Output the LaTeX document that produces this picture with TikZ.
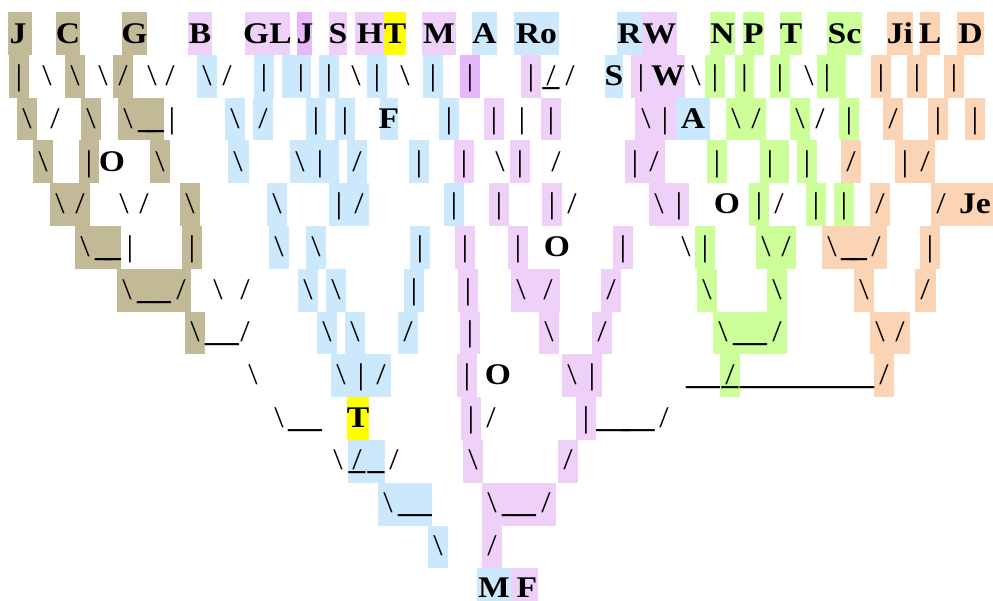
\documentclass[tikz,border=0pt]{standalone}
\usepackage{fontspec}
\newfontfamily\treefont[FakeStretch=1.12]{Liberation Serif}
\definecolor{tanC}{HTML}{C2BA96}
\definecolor{lilacC}{HTML}{EED0F8}
\definecolor{violetC}{HTML}{E6B8FB}
\definecolor{skyC}{HTML}{CCE8FC}
\definecolor{yellowC}{HTML}{FFFF00}
\definecolor{limeC}{HTML}{CCFF99}
\definecolor{peachC}{HTML}{FAD4B4}
\newcommand\xb{{\mdseries\textbackslash}}
\newcommand\xf{{\mdseries/}}
\newcommand\xp{{\mdseries\textbar}}
\newcommand\xu{\textunderscore}
\newcommand\ov[2]{\makebox[0pt]{#1}\makebox[0pt]{#2}}
\tikzset{
  glyph/.style={
    anchor=base,
    inner sep=0pt,
    font=\treefont\bfseries\fontsize{30}{30}\selectfont
  }
}
% one row of coloured cells, one row of characters
\newcommand\cellrow[2]{%
  \foreach \xa/\xz/\cl in {#2}
    \fill[\cl] (\xa,{12+42.8*(#1-1)}) rectangle (\xz,{12+42.8*#1});}
\newcommand\charrow[2]{%
  \foreach \xc/\ch [count=\i] in {#2}
    \node[glyph] (c#1-\i) at (\xc,{43.2+42.67*(#1-1)}) {\ch};}

\begin{document}
\begin{tikzpicture}[x=1pt,y=-1pt]
\useasboundingbox (0,0) rectangle (993,601);
\clip (0,0) rectangle (993,601);

\cellrow{1}{8/32/tanC, 56/80/tanC, 122/147/tanC, 188/212/lilacC, 245/290/lilacC, 297/312/violetC, 329/347/lilacC, 355/384/lilacC, 384/406/yellowC, 422/456/lilacC, 472/497/skyC, 514/559/skyC, 617/642/skyC, 642/677/lilacC, 710/735/limeC, 743/764/limeC, 780/802/limeC, 827/862/limeC, 887/913/peachC, 920/940/peachC, 957/984/peachC}
\charrow{1}{18/J, 68/C, 134.5/G, 200/B, 267.5/GL, 305/J, 338/S, 370/H, 395/T, 439/M, 484.5/A, 536.5/Ro, 629.5/R, 659.5/W, 722.5/N, 753.5/P, 791/T, 844.5/Sc, 900/Ji, 930/L, 970.5/D}

\cellrow{2}{9/29/tanC, 65/85/tanC, 113/133/tanC, 197/217/skyC, 254/274/skyC, 282/311/skyC, 319/339/skyC, 367/387/skyC, 423/443/skyC, 460/480/violetC, 521/541/lilacC, 605/623/skyC, 631/685/lilacC, 705/725/limeC, 735/754/limeC, 770/790/limeC, 817/846/limeC, 871/891/peachC, 907/927/peachC, 944/964/peachC}
\charrow{2}{19/\xp, 47/\xb, 75/\xb, 103/\xb, 123/\xf, 152/\xb, 170/\xf, 207/\xb, 227/\xf, 264/\xp, 301/\xp, 329/\xp, 356/\xb, 377/\xp, 405/\xb, 433/\xp, 470/\xp, 531/\xp, 551/\ov{\xu}{\xf}, 570/\xf, 614/S, 641/\xp, 668/W, 696/\xb, 715/\xp, 744.5/\xp, 780/\xp, 809/\xb, 827/\xp, 881/\xp, 917/\xp, 954/\xp}

\cellrow{3}{17/37/tanC, 81/101/tanC, 118/164/tanC, 225/245/skyC, 253/273/skyC, 306/326/skyC, 335/355/skyC, 380/398/skyC, 439/459/skyC, 484/504/lilacC, 541/561/lilacC, 635/676/lilacC, 676/710/skyC, 726/766/limeC, 790/810/limeC, 839/859/limeC, 883/903/peachC, 928/948/peachC, 965/985/peachC}
\charrow{3}{27/\xb, 55/\xf, 91/\xb, 128/\xb, 151/\xu\kern-7.8pt\xu, 172/\xp, 235/\xb, 263/\xf, 316/\xp, 345/\xp, 389/F, 449/\xp, 494/\xp, 522/\xp, 551/\xp, 646/\xb, 665/\xp, 693/A, 736/\xb, 756/\xf, 800/\xb, 820/\xf, 849/\xp, 893/\xf, 938/\xp, 975/\xp}

\cellrow{4}{33/53/tanC, 79/99/tanC, 150/170/tanC, 228/249/skyC, 290/339/skyC, 347/367/skyC, 409/429/skyC, 454/474/lilacC, 510/530/lilacC, 625/665/lilacC, 707/727/limeC, 760/789/limeC, 797/817/limeC, 841/861/peachC, 895/935/peachC}
\charrow{4}{43/\xb, 89/\xp, 112/O, 160/\xb, 238/\xb, 300/\xb, 320/\xp, 357/\xf, 419/\xp, 464/\xp, 500/\xb, 520/\xp, 556/\xf, 635/\xp, 654/\xf, 717/\xp, 770/\xp, 807/\xp, 851/\xf, 905/\xp, 925/\xf}

\cellrow{5}{50/90/tanC, 180/200/tanC, 267/287/skyC, 329/369/skyC, 444/464/skyC, 489/509/lilacC, 542/562/lilacC, 649/689/lilacC, 749/769/limeC, 806/826/limeC, 834/854/limeC, 870/890/peachC, 931/993/peachC}
\charrow{5}{60/\xb, 80/\xf, 124/\xb, 144/\xf, 190/\xb, 277/\xb, 339/\xp, 359/\xf, 454/\xp, 499/\xp, 552/\xp, 572/\xf, 659/\xb, 679/\xp, 727/O, 759/\xp, 779/\xf, 816/\xp, 844/\xp, 880/\xf, 941/\xf, 975/Je}

\cellrow{6}{75/121/tanC, 182/202/tanC, 269/289/skyC, 306/326/skyC, 410/430/skyC, 455/475/lilacC, 508/528/lilacC, 613/633/lilacC, 695/715/limeC, 756/796/limeC, 822/887/peachC, 920/940/peachC}
\charrow{6}{85/\xb, 108/\xu\kern-7.8pt\xu, 130/\xp, 192/\xp, 279/\xb, 316/\xb, 420/\xp, 465/\xp, 518/\xp, 557/O, 623/\xp, 686/\xb, 705/\xp, 766/\xb, 786/\xf, 832/\xb, 854/\xu\kern-7.8pt\xu, 876/\xf, 930/\xp}

\cellrow{7}{117/191/tanC, 298/318/skyC, 326/346/skyC, 404/424/skyC, 458/478/lilacC, 511/560/lilacC, 601/621/lilacC, 697/717/limeC, 767/787/limeC, 854/874/peachC, 915/936/peachC}
\charrow{7}{127/\xb, 154/\xu\xu, 181/\xf, 218/\xb, 245/\xf, 308/\xb, 336/\xb, 414/\xp, 468/\xp, 521/\xb, 548/\xf, 611/\xf, 707/\xb, 777/\xb, 864/\xb, 925/\xf}

\cellrow{8}{185/205/tanC, 317/337/skyC, 345/365/skyC, 398/418/skyC, 460/480/lilacC, 539/559/lilacC, 592/612/lilacC, 713/787/limeC, 870/910/peachC}
\charrow{8}{195/\xb, 222/\xu\xu, 245/\xf, 327/\xb, 355/\xb, 408/\xf, 470/\xp, 549/\xb, 602/\xf, 723/\xb, 750/\xu\xu, 777/\xf, 880/\xb, 900/\xf}

\cellrow{9}{331/391/skyC, 457/477/lilacC, 562/602/lilacC, 720/740/limeC, 874/894/peachC}
\charrow{9}{253/\xb, 341/\xb, 361/\xp, 381/\xf, 467/\xp, 498/O, 572/\xb, 592/\xp, 703/\xu\xu, 730/\ov{\xu}{\xf}, 807/\xu\xu\xu\xu\xu\xu\xu\xu, 884/\xf}

\cellrow{10}{347/369/yellowC, 461/481/lilacC, 576/596/lilacC}
\charrow{10}{279/\xb, 305/\xu\xu, 358/T, 471/\xp, 491/\xf, 586/\xp, 625.5/\xu\xu\kern-9pt\xu\xu, 664/\xf}

\cellrow{11}{348/385/skyC, 463/483/lilacC, 558/578/lilacC}
\charrow{11}{338/\xb, 357/\ov{\xu}{\xf}, 376/\xu, 394/\xf, 473/\xb, 568/\xf}

\cellrow{12}{378/432/skyC, 482/556/lilacC}
\charrow{12}{388/\xb, 415/\xu\xu, 492/\xb, 519/\xu\xu, 546/\xf}

\cellrow{13}{428/448/skyC, 482/502/lilacC}
\charrow{13}{438/\xb, 492/\xf}

\cellrow{14}{477/511/skyC, 511/538/lilacC}
\charrow{14}{494/M, 527/F}
\end{tikzpicture}
\end{document}
